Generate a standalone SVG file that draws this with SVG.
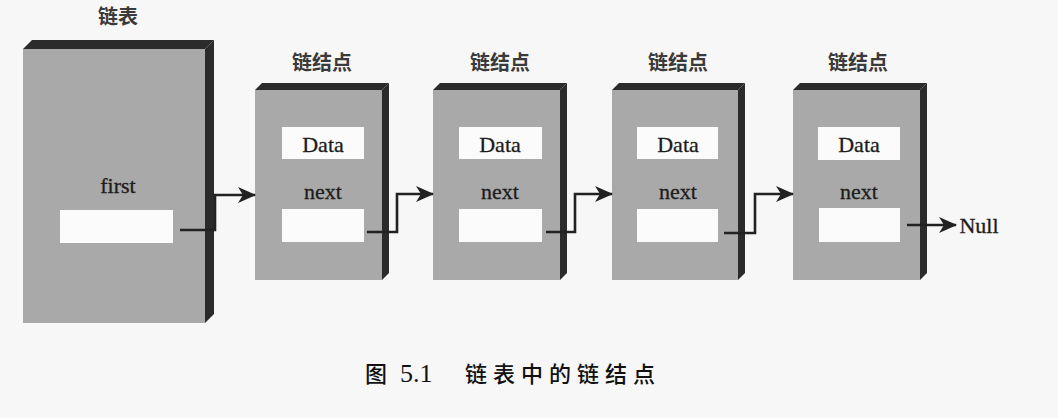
<svg xmlns="http://www.w3.org/2000/svg" width="1058" height="418" viewBox="0 0 1058 418">
<defs>
<style>
.front{fill:#a9a9a9}
.edge{fill:#2b2b2b}
.slot{fill:#fbfbfb}
.lbl{font-family:"Liberation Serif","Times New Roman",serif;font-size:22px;fill:#1c1c1c;stroke:#1c1c1c;stroke-width:0.3;text-anchor:middle}
.cjk{font-family:"Noto Sans CJK SC",sans-serif;font-size:20px;font-weight:bold;fill:#3a3a3a;text-anchor:middle}
.conn{fill:none;stroke:#222;stroke-width:2.6;stroke-linejoin:miter}
.cap{font-family:"Liberation Serif","Noto Sans CJK SC",serif;font-size:22px;fill:#111;font-weight:500}
</style>
<marker id="ah" markerUnits="userSpaceOnUse" markerWidth="18" markerHeight="16" viewBox="0 0 18 16" refX="17" refY="8" orient="auto">
<path d="M0,0 L18,8 L0,16 L5,8 Z" fill="#222"/>
</marker>
</defs>
<rect width="1058" height="418" fill="#f7f7f7"/>

<g id="list">
<text class="cjk" x="118" y="24">链表</text>
<rect class="front" x="23" y="49" width="182" height="274"/>
<path class="edge" d="M23,49 L32,40 L214,40 L205,49 Z"/>
<path class="edge" d="M205,49 L214,40 L214,314 L205,323 Z"/>
<text class="lbl" x="118" y="193">first</text>
<rect class="slot" x="60" y="210" width="113" height="33"/>
</g>

<g id="node1">
<text class="cjk" x="322" y="70">链结点</text>
<rect class="front" x="255" y="90" width="127" height="190"/>
<path class="edge" d="M255,90 L262,83 L389,83 L382,90 Z"/>
<path class="edge" d="M382,90 L389,83 L389,273 L382,280 Z"/>
<rect class="slot" x="282" y="127" width="82" height="32"/>
<text class="lbl" x="323" y="152">Data</text>
<text class="lbl" x="323" y="199">next</text>
<rect class="slot" x="282" y="209" width="82" height="33"/>
</g>

<g id="node2">
<text class="cjk" x="500" y="70">链结点</text>
<rect class="front" x="433" y="90" width="127" height="190"/>
<path class="edge" d="M433,90 L440,83 L567,83 L560,90 Z"/>
<path class="edge" d="M560,90 L567,83 L567,273 L560,280 Z"/>
<rect class="slot" x="459" y="127" width="83" height="32"/>
<text class="lbl" x="500" y="152">Data</text>
<text class="lbl" x="500" y="199">next</text>
<rect class="slot" x="459" y="209" width="83" height="33"/>
</g>

<g id="node3">
<text class="cjk" x="678" y="70">链结点</text>
<rect class="front" x="612" y="90" width="126" height="190"/>
<path class="edge" d="M612,90 L619,83 L745,83 L738,90 Z"/>
<path class="edge" d="M738,90 L745,83 L745,273 L738,280 Z"/>
<rect class="slot" x="637" y="127" width="81" height="32"/>
<text class="lbl" x="678" y="152">Data</text>
<text class="lbl" x="678" y="199">next</text>
<rect class="slot" x="637" y="209" width="81" height="33"/>
</g>

<g id="node4">
<text class="cjk" x="858" y="70">链结点</text>
<rect class="front" x="793" y="90" width="127" height="190"/>
<path class="edge" d="M793,90 L800,83 L927,83 L920,90 Z"/>
<path class="edge" d="M920,90 L927,83 L927,273 L920,280 Z"/>
<rect class="slot" x="818" y="127" width="82" height="33"/>
<text class="lbl" x="859" y="152">Data</text>
<text class="lbl" x="859" y="199">next</text>
<rect class="slot" x="819" y="208" width="81" height="34"/>
</g>

<g id="null">
<text class="lbl" x="979" y="233">Null</text>
</g>

<g id="connectors">
<path class="conn" d="M180,230 H215 V195 H255" marker-end="url(#ah)"/>
<path class="conn" d="M367,232 H397 V194 H433" marker-end="url(#ah)"/>
<path class="conn" d="M546,232 H575 V194 H612" marker-end="url(#ah)"/>
<path class="conn" d="M724,233 H755 V194 H793" marker-end="url(#ah)"/>
<path class="conn" d="M907,225 H956" marker-end="url(#ah)"/>
</g>

<g id="caption">
<text class="cap" y="382"><tspan x="365">图</tspan><tspan x="400" font-size="26">5.1</tspan><tspan x="465" letter-spacing="6">链表中的链结点</tspan></text>
</g>
</svg>
